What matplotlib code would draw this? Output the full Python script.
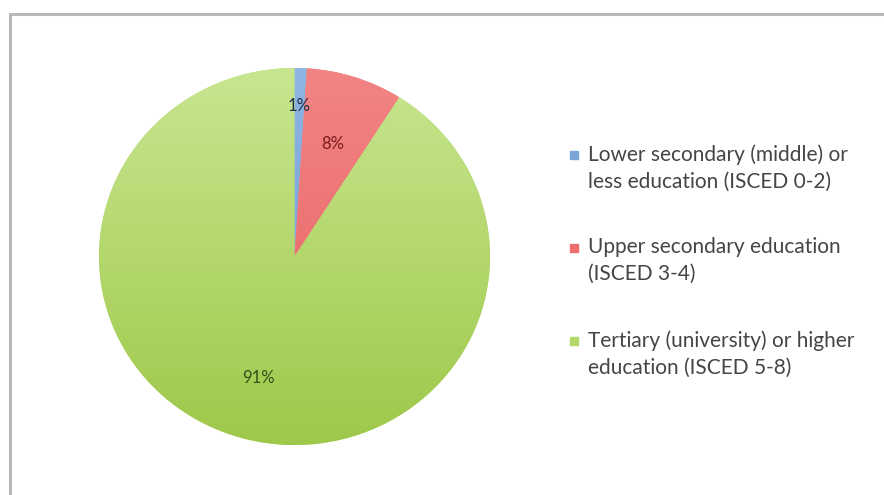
import matplotlib.pyplot as plt
from matplotlib.patches import Rectangle
from matplotlib.colors import LinearSegmentedColormap
import numpy as np

# Education level shares
categories = ["Lower secondary (middle) or\nless education (ISCED 0-2)",
              "Upper secondary education\n(ISCED 3-4)",
              "Tertiary (university) or higher\neducation (ISCED 5-8)"]
shares = [1, 8, 91]
colors = ["#79a5da", "#ee6e6f", "#b4d86a"]
colors_top = ["#8fb6e4", "#f38484", "#c8e690"]
colors_bot = ["#6593cc", "#e65e5f", "#9ec84a"]
label_colors = ["#1f2f4a", "#7a1c1c", "#33501a"]
label_dist = [0.80, 0.63, 0.67]

W, H = 884, 495
plt.rcParams['font.family'] = ['Lato', 'DejaVu Sans']
fig = plt.figure(figsize=(W / 100, H / 100), dpi=100)

# chart frame
fig.patches.append(Rectangle((10 / W, -0.1), 2.0, 1 - 14 / H + 0.1,
                             transform=fig.transFigure, fill=False,
                             edgecolor="#b8b8b8", linewidth=2.2))

# pie axes (slightly wider than tall)
cx, cy, rx, ry = 294.5, 256.5, 195.5, 188.5
ax = fig.add_axes([(cx - rx) / W, (H - cy - ry) / H, 2 * rx / W, 2 * ry / H])
wedges, _ = ax.pie(shares, colors=colors, startangle=90, counterclock=False,
                   radius=1.0, wedgeprops=dict(linewidth=0))
ax.set_aspect("auto")
ax.axis("off")

# soft vertical shading in each slice
grad = np.linspace(0, 1, 256).reshape(-1, 1)
for w, ct, cb in zip(wedges, colors_top, colors_bot):
    cmap = LinearSegmentedColormap.from_list("g", [cb, ct])
    im = ax.imshow(grad, cmap=cmap, extent=[-1, 1, -1, 1], origin="lower",
                   aspect="auto", zorder=w.get_zorder() + 0.1)
    im.set_clip_path(w)
ax.set_xlim(-1, 1)
ax.set_ylim(-1, 1)

# percentage labels
total = sum(shares)
cum = 0
for v, d, c in zip(shares, label_dist, label_colors):
    mid = 90 - 360 * (cum + v / 2) / total
    cum += v
    ax.text(d * np.cos(np.radians(mid)), d * np.sin(np.radians(mid)),
            f"{v}%", ha="center", va="center", fontsize=12, color=c, zorder=5)

# legend drawn by hand so the marker sits on the first text line
for i, (lab, c) in enumerate(zip(categories, colors)):
    y = 155 + 93 * i
    fig.patches.append(Rectangle((570 / W, 1 - (y + 4) / H), 8 / W, 8 / H,
                                 transform=fig.transFigure, color=c))
    fig.text(588 / W, 1 - (y - 11) / H, lab, ha="left", va="top",
             fontsize=15, color="#454545", linespacing=1.45)

fig.savefig("out.png", dpi=100)
